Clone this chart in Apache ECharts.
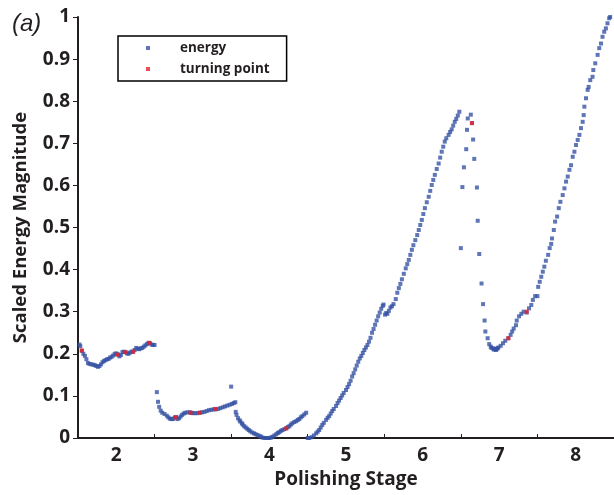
<!DOCTYPE html>
<html>
<head>
<meta charset="utf-8">
<script src="https://cdn.jsdelivr.net/npm/echarts@6/dist/echarts.min.js"></script>
<style>
  html, body { margin: 0; padding: 0; background: #fff; }
  #main { width: 614px; height: 495px; }
</style>
</head>
<body>
<div id="main"></div>
<script>
// energy readings, one array per polishing stage
var stage2 = [[1.52,0.222],[1.53,0.218],[1.55,0.207],[1.57,0.200],[1.59,0.195],[1.61,0.187],[1.63,0.178],[1.65,0.176],[1.675,0.175],[1.70,0.174],[1.72,0.173],[1.74,0.171],[1.76,0.169],[1.78,0.171],[1.80,0.175],[1.82,0.180],[1.84,0.183],[1.86,0.185],[1.88,0.187],[1.90,0.188],[1.92,0.191],[1.94,0.193],[1.96,0.196],[1.98,0.200],[2.00,0.201],[2.02,0.199],[2.04,0.194],[2.06,0.197],[2.08,0.204],[2.10,0.205],[2.12,0.204],[2.14,0.201],[2.16,0.200],[2.18,0.203],[2.20,0.205],[2.22,0.205],[2.24,0.209],[2.26,0.214],[2.28,0.212],[2.30,0.211],[2.32,0.213],[2.34,0.214],[2.36,0.217],[2.38,0.220],[2.40,0.223],[2.42,0.226],[2.44,0.225],[2.46,0.222],[2.48,0.221],[2.50,0.221]];
var stage3 = [[2.53,0.109],[2.545,0.086],[2.56,0.074],[2.58,0.065],[2.60,0.060],[2.63,0.057],[2.66,0.053],[2.68,0.049],[2.70,0.046],[2.72,0.045],[2.74,0.045],[2.76,0.048],[2.78,0.050],[2.80,0.045],[2.82,0.047],[2.84,0.051],[2.86,0.055],[2.88,0.058],[2.90,0.060],[2.93,0.061],[2.96,0.061],[2.98,0.060],[3.00,0.059],[3.03,0.059],[3.06,0.059],[3.09,0.060],[3.12,0.061],[3.15,0.062],[3.18,0.064],[3.21,0.066],[3.24,0.067],[3.27,0.068],[3.30,0.068],[3.33,0.069],[3.36,0.071],[3.39,0.073],[3.42,0.075],[3.45,0.077],[3.48,0.079],[3.51,0.081],[3.535,0.083],[3.555,0.085],[3.50,0.122]];
var stage4 = [[3.56,0.062],[3.57,0.055],[3.59,0.047],[3.61,0.042],[3.62,0.039],[3.64,0.035],[3.65,0.032],[3.67,0.028],[3.69,0.025],[3.71,0.022],[3.73,0.019],[3.75,0.016],[3.775,0.013],[3.80,0.011],[3.82,0.009],[3.845,0.007],[3.87,0.005],[3.89,0.003],[3.91,0.001],[3.935,0.0],[3.96,0.0],[3.98,0.0],[4.00,0.0],[4.02,0.001],[4.04,0.003],[4.065,0.006],[4.09,0.009],[4.11,0.012],[4.13,0.014],[4.15,0.017],[4.17,0.019],[4.195,0.021],[4.22,0.023],[4.24,0.026],[4.26,0.028],[4.28,0.032],[4.30,0.035],[4.325,0.038],[4.35,0.040],[4.37,0.043],[4.39,0.045],[4.41,0.049],[4.43,0.052],[4.455,0.056],[4.48,0.060]];
var stage5 = [[4.50,0.0],[4.52,0.0],[4.55,0.002],[4.58,0.006],[4.61,0.011],[4.63,0.015],[4.65,0.019],[4.67,0.025],[4.69,0.031],[4.71,0.036],[4.74,0.043],[4.76,0.048],[4.78,0.052],[4.80,0.058],[4.82,0.064],[4.84,0.069],[4.87,0.076],[4.89,0.083],[4.91,0.089],[4.93,0.095],[4.95,0.101],[4.97,0.107],[5.00,0.114],[5.02,0.121],[5.04,0.128],[5.06,0.136],[5.08,0.146],[5.10,0.154],[5.12,0.163],[5.14,0.172],[5.16,0.181],[5.18,0.189],[5.20,0.195],[5.22,0.202],[5.24,0.209],[5.26,0.215],[5.28,0.221],[5.30,0.229],[5.32,0.238],[5.34,0.250],[5.36,0.259],[5.38,0.269],[5.40,0.279],[5.42,0.289],[5.44,0.298],[5.46,0.307],[5.48,0.314],[5.49,0.317],[5.51,0.293],[5.525,0.297],[5.54,0.295],[5.56,0.302],[5.58,0.310],[5.60,0.313],[5.62,0.318],[5.65,0.330],[5.67,0.345],[5.69,0.356],[5.71,0.366],[5.73,0.377],[5.755,0.390],[5.78,0.403],[5.80,0.413],[5.82,0.423],[5.84,0.435],[5.86,0.447],[5.88,0.458],[5.905,0.470],[5.93,0.482],[5.95,0.494],[5.97,0.506],[5.99,0.518],[6.01,0.532],[6.03,0.546],[6.055,0.560],[6.08,0.573],[6.10,0.587],[6.12,0.601],[6.14,0.613],[6.16,0.625],[6.185,0.639],[6.21,0.652],[6.23,0.666],[6.25,0.680],[6.27,0.692],[6.29,0.704],[6.31,0.712],[6.34,0.720],[6.36,0.727],[6.38,0.733],[6.40,0.742],[6.42,0.751],[6.44,0.758],[6.46,0.766],[6.48,0.775]];
var stage6 = [[6.59,0.759],[6.58,0.732],[6.57,0.686],[6.54,0.643],[6.52,0.596],[6.50,0.451],[6.63,0.768],[6.645,0.748],[6.66,0.709],[6.675,0.663],[6.71,0.595],[6.72,0.516],[6.74,0.437],[6.77,0.367],[6.79,0.318],[6.81,0.279],[6.82,0.253],[6.85,0.237],[6.87,0.223],[6.89,0.217],[6.90,0.214],[6.92,0.213],[6.93,0.210],[6.95,0.211],[6.96,0.209],[6.97,0.212],[6.98,0.213],[6.99,0.215],[7.02,0.219],[7.05,0.225],[7.08,0.231],[7.12,0.237],[7.15,0.245],[7.17,0.253],[7.19,0.260],[7.22,0.268],[7.23,0.279],[7.26,0.289],[7.29,0.295],[7.32,0.300],[7.36,0.298],[7.39,0.308],[7.42,0.316],[7.44,0.328],[7.47,0.337],[7.50,0.337]];
var stage7 = [[7.51,0.359],[7.53,0.371],[7.55,0.383],[7.57,0.395],[7.59,0.407],[7.61,0.421],[7.64,0.435],[7.66,0.451],[7.68,0.461],[7.69,0.474],[7.714,0.494],[7.731,0.514],[7.757,0.526],[7.779,0.546],[7.80,0.561],[7.83,0.577],[7.853,0.593],[7.874,0.609],[7.896,0.621],[7.918,0.637],[7.939,0.648],[7.961,0.668],[7.983,0.680],[8.004,0.696],[8.026,0.708],[8.048,0.720],[8.069,0.736],[8.091,0.751],[8.104,0.767],[8.113,0.787],[8.134,0.807],[8.156,0.827],[8.169,0.834],[8.19,0.850],[8.22,0.858],[8.23,0.874],[8.255,0.890],[8.286,0.910],[8.307,0.926],[8.33,0.937],[8.35,0.953],[8.372,0.965],[8.394,0.973],[8.415,0.985],[8.437,0.997],[8.45,1.0]];

var turningPoints = [[1.55,0.208],[2.01,0.198],[2.12,0.204],[2.22,0.205],[2.43,0.226],[2.77,0.049],[2.97,0.060],[3.09,0.060],[3.29,0.069],[4.22,0.023],[6.645,0.748],[7.12,0.237],[7.36,0.300]];

var stageLabels = [2, 3, 4, 5, 6, 7, 8];
var stageBounds = [2.5, 3.5, 4.5, 5.5, 6.5, 7.5];

var energy = [].concat(stage2, stage3, stage4, stage5, stage6, stage7);

var boldFont = 'Open Sans';
var ink = '#231f20';

var option = {
  animation: false,
  title: {
    text: '(a)',
    left: 7,
    top: 7,
    textStyle: { fontFamily: 'Liberation Sans', fontStyle: 'italic', fontWeight: 'normal', fontSize: 24, color: ink }
  },
  legend: {
    orient: 'vertical',
    left: 118,
    top: 36,
    padding: [5, 17, 5, 28],
    itemGap: 7,
    itemWidth: 4,
    itemHeight: 4,
    borderColor: '#000',
    borderWidth: 1.5,
    borderRadius: 0,
    textStyle: { fontFamily: boldFont, fontWeight: 'bold', fontSize: 13.5, color: ink, padding: [0, 0, 0, 25] },
    data: [{ name: 'energy', icon: 'rect' }, { name: 'turning point', icon: 'rect' }]
  },
  grid: { left: 78, right: 0, top: 17, bottom: 57, outerBoundsMode: 'none' },
  xAxis: {
    type: 'value',
    min: 1.5,
    max: 8.5,
    name: 'Polishing Stage',
    nameLocation: 'middle',
    nameGap: 30,
    nameTextStyle: { fontFamily: boldFont, fontWeight: 'bold', fontSize: 19, color: ink },
    axisLine: { lineStyle: { color: ink, width: 2 } },
    axisTick: { inside: true, length: 4, customValues: stageBounds, lineStyle: { color: ink, width: 1 } },
    axisLabel: { customValues: stageLabels, margin: 8, fontFamily: boldFont, fontWeight: 'bold', fontSize: 19, color: ink },
    splitLine: { show: false }
  },
  yAxis: {
    type: 'value',
    min: 0,
    max: 1,
    interval: 0.1,
    name: 'Scaled Energy Magnitude',
    nameLocation: 'middle',
    nameGap: 48,
    nameTextStyle: { fontFamily: boldFont, fontWeight: 'bold', fontSize: 18.5, color: ink },
    axisLine: { show: true, lineStyle: { color: ink, width: 2 } },
    axisTick: { show: true, length: 5, lineStyle: { color: ink, width: 1 } },
    axisLabel: { margin: 8, fontFamily: boldFont, fontWeight: 'bold', fontSize: 19, color: ink },
    splitLine: { show: false }
  },
  series: [
    {
      name: 'energy',
      type: 'scatter',
      symbol: 'rect',
      symbolSize: 4,
      clip: false,
      itemStyle: { color: '#3652a4' },
      data: energy
    },
    {
      name: 'turning point',
      type: 'scatter',
      symbol: 'rect',
      symbolSize: 4,
      clip: false,
      itemStyle: { color: '#e8202a' },
      data: turningPoints
    }
  ]
};

var chart = echarts.init(document.getElementById('main'));
chart.setOption(option);
</script>
</body>
</html>
